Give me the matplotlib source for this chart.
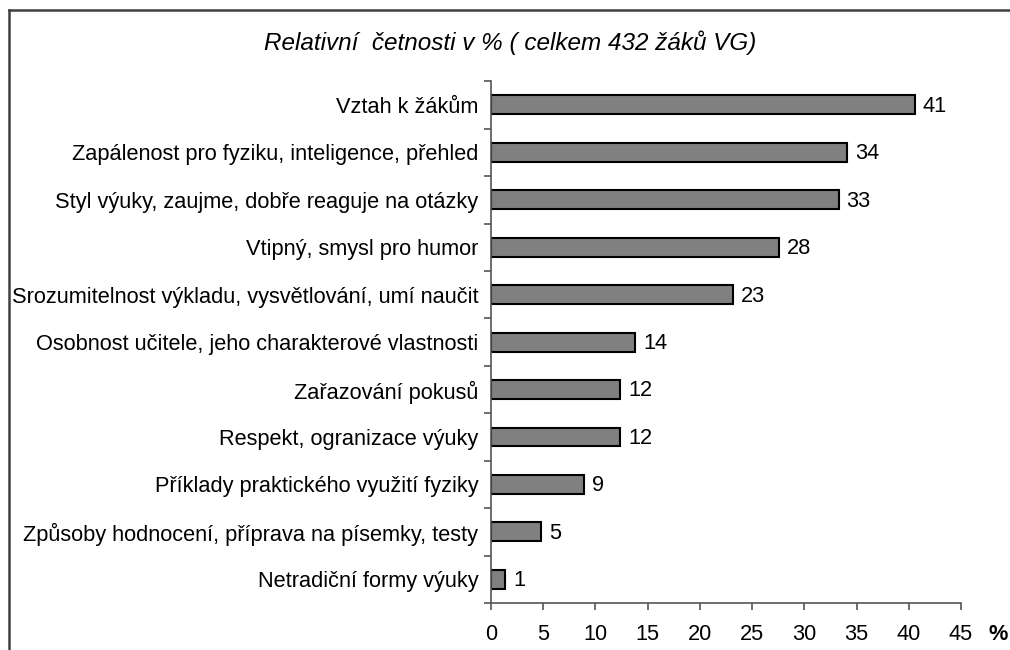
import numpy as np
import matplotlib.pyplot as plt
from matplotlib.lines import Line2D

plt.rcParams['font.family'] = ['Liberation Sans', 'DejaVu Sans']

categories = [
    "Vztah k žákům",
    "Zapálenost pro fyziku, inteligence, přehled",
    "Styl výuky, zaujme, dobře reaguje na otázky",
    "Vtipný, smysl pro humor",
    "Srozumitelnost výkladu, vysvětlování, umí naučit",
    "Osobnost učitele, jeho charakterové vlastnosti",
    "Zařazování pokusů",
    "Respekt, ogranizace výuky",
    "Příklady praktického využití fyziky",
    "Způsoby hodnocení, příprava na písemky, testy",
    "Netradiční formy výuky",
]
values = [40.6, 34.1, 33.3, 27.6, 23.2, 13.8, 12.4, 12.4, 8.9, 4.8, 1.4]
value_labels = ["41", "34", "33", "28", "23", "14", "12", "12", "9", "5", "1"]
xticks = [0, 5, 10, 15, 20, 25, 30, 35, 40, 45]

fs = 15.7

fig = plt.figure(figsize=(10.1, 6.5), dpi=100)
ax = fig.add_axes([0.486, 0.0723, 0.4655, 0.8027])

y = np.arange(len(categories))[::-1]
ax.barh(y, values, height=0.4, color="#808080", edgecolor="black", linewidth=1.5)
for yi, v, lab in zip(y, values, value_labels):
    ax.text(v + 0.75, yi - 0.03, lab, va="center", ha="left", fontsize=fs)

ax.set_xlim(0, 45)
ax.set_ylim(-0.5, len(categories) - 0.5)
ax.set_xticks(xticks)
ax.set_yticks(y)
ax.set_yticklabels(categories)
ax.set_yticks(np.arange(-0.5, len(categories), 1), minor=True)

for s in ["top", "right"]:
    ax.spines[s].set_visible(False)
for s in ["left", "bottom"]:
    ax.spines[s].set_color("#555555")
    ax.spines[s].set_linewidth(1.2)

ax.tick_params(axis="y", which="major", length=0, pad=9, labelsize=fs)
ax.tick_params(axis="y", which="minor", length=5, width=1.2, color="#555555")
ax.tick_params(axis="x", length=5, width=1.2, color="#555555", pad=10, labelsize=fs)

fig.text(0.505, 0.934, "Relativní  četnosti v % ( celkem 432 žáků VG)",
         ha="center", va="center", fontsize=17.5, style="italic")
fig.text(0.988, 0.024, "%", ha="center", va="center", fontsize=fs, fontweight="bold")

# outer frame (cut off on the right and bottom)
fig.add_artist(Line2D([0.0085, 0.0085], [0.0, 0.984], color="#404040", linewidth=1.8))
fig.add_artist(Line2D([0.0085, 1.0], [0.984, 0.984], color="#404040", linewidth=1.8))

fig.savefig("out.png", dpi=100)
